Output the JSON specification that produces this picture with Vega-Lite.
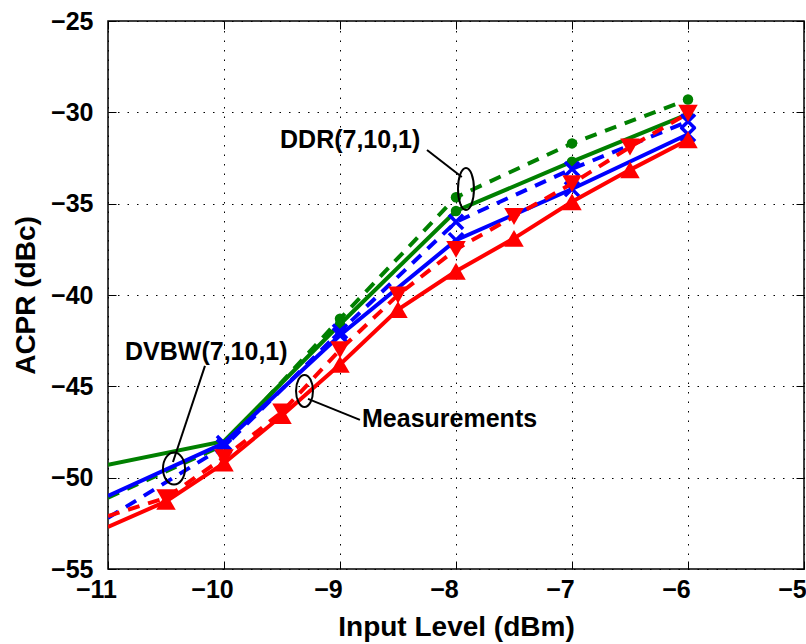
{
  "$schema": "https://vega.github.io/schema/vega-lite/v6.json",
  "width": 696,
  "height": 548,
  "autosize": {"type": "none"},
  "padding": {"left": 108, "top": 21, "right": 2, "bottom": 75},
  "background": "white",
  "config": {
    "view": {"stroke": "black", "strokeWidth": 1.5},
    "font": "Liberation Sans",
    "axis": {
      "labelFont": "Liberation Sans",
      "labelFontSize": 25,
      "labelFontWeight": "bold",
      "labelColor": "black",
      "labelFlush": false,
      "labelOverlap": false,
      "format": "d",
      "titleFont": "Liberation Sans",
      "titleFontSize": 28,
      "titleFontWeight": "bold",
      "titleColor": "black",
      "domain": false,
      "tickColor": "black",
      "tickWidth": 1,
      "gridColor": "black",
      "gridOpacity": 1,
      "gridWidth": 1,
      "gridDash": [1.5, 8]
    }
  },
  "datasets": {
    "curves": [
      {"series": "meas_solid", "x": -11, "y": -52.7},
      {"series": "meas_solid", "x": -10.5, "y": -51.3},
      {"series": "meas_solid", "x": -10, "y": -49.2},
      {"series": "meas_solid", "x": -9.5, "y": -46.6},
      {"series": "meas_solid", "x": -9, "y": -43.8},
      {"series": "meas_solid", "x": -8.5, "y": -40.8},
      {"series": "meas_solid", "x": -8, "y": -38.7},
      {"series": "meas_solid", "x": -7.5, "y": -36.9},
      {"series": "meas_solid", "x": -7, "y": -34.9},
      {"series": "meas_solid", "x": -6.5, "y": -33.15},
      {"series": "meas_solid", "x": -6, "y": -31.5},
      {"series": "meas_dashed", "x": -11, "y": -52.1},
      {"series": "meas_dashed", "x": -10.5, "y": -51.1},
      {"series": "meas_dashed", "x": -10, "y": -48.9},
      {"series": "meas_dashed", "x": -9.5, "y": -46.4},
      {"series": "meas_dashed", "x": -9, "y": -43.0},
      {"series": "meas_dashed", "x": -8.5, "y": -40.0},
      {"series": "meas_dashed", "x": -8, "y": -37.5},
      {"series": "meas_dashed", "x": -7.5, "y": -35.7},
      {"series": "meas_dashed", "x": -7, "y": -33.9},
      {"series": "meas_dashed", "x": -6.5, "y": -31.9},
      {"series": "meas_dashed", "x": -6, "y": -30.05},
      {"series": "dvbw_solid", "x": -11, "y": -51.0},
      {"series": "dvbw_solid", "x": -10, "y": -48.1},
      {"series": "dvbw_solid", "x": -9, "y": -42.2},
      {"series": "dvbw_solid", "x": -8, "y": -37.0},
      {"series": "dvbw_solid", "x": -7, "y": -34.2},
      {"series": "dvbw_solid", "x": -6, "y": -31.2},
      {"series": "dvbw_dashed", "x": -11, "y": -52.2},
      {"series": "dvbw_dashed", "x": -10, "y": -48.3},
      {"series": "dvbw_dashed", "x": -9, "y": -42.0},
      {"series": "dvbw_dashed", "x": -8, "y": -36.0},
      {"series": "dvbw_dashed", "x": -7, "y": -33.1},
      {"series": "dvbw_dashed", "x": -6, "y": -30.5},
      {"series": "ddr_solid", "x": -11, "y": -49.3},
      {"series": "ddr_solid", "x": -10, "y": -48.0},
      {"series": "ddr_solid", "x": -9, "y": -41.6},
      {"series": "ddr_solid", "x": -8, "y": -35.4},
      {"series": "ddr_solid", "x": -7, "y": -32.7},
      {"series": "ddr_solid", "x": -6, "y": -30.1},
      {"series": "ddr_dashed", "x": -11, "y": -51.1},
      {"series": "ddr_dashed", "x": -10, "y": -48.2},
      {"series": "ddr_dashed", "x": -9, "y": -41.3},
      {"series": "ddr_dashed", "x": -8, "y": -34.65},
      {"series": "ddr_dashed", "x": -7, "y": -31.7},
      {"series": "ddr_dashed", "x": -6, "y": -29.3}
    ],
    "ellipses": [
      {"name": "DDR", "x": -7.914, "y": -34.2},
      {"name": "DVBW", "x": -10.431, "y": -49.5},
      {"name": "Meas", "x": -9.306, "y": -45.25}
    ],
    "leaders": [
      {"name": "DDR", "x": -8.25, "y": -32.06, "x2": -7.95, "y2": -33.54},
      {"name": "DVBW", "x": -10.164, "y": -43.88, "x2": -10.44, "y2": -49.14},
      {"name": "Meas", "x": -9.276, "y": -45.69, "x2": -8.828, "y2": -46.84}
    ],
    "labels": [
      {"text": "DDR(7,10,1)", "x": -9.517, "y": -31.51},
      {"text": "DVBW(7,10,1)", "x": -10.853, "y": -43.12},
      {"text": "Measurements", "x": -8.81, "y": -46.78}
    ]
  },
  "layer": [
    {
      "layer": [
        {
          "data": {"name": "curves"},
          "transform": [{"filter": "datum.series == 'ddr_solid'"}],
          "mark": {"type": "line", "color": "#008000", "strokeWidth": 4, "clip": true},
          "encoding": {
            "x": {"field": "x", "type": "quantitative", "title": "Input Level (dBm)",
              "scale": {"domain": [-11, -5], "nice": false, "zero": false},
              "axis": {"values": [-11, -10, -9, -8, -7, -6, -5], "grid": true, "ticks": true, "tickSize": -8, "labelPadding": 16, "labelOffset": -12, "titlePadding": 11}},
            "y": {"field": "y", "type": "quantitative", "title": "ACPR (dBc)",
              "scale": {"domain": [-55, -25], "nice": false, "zero": false},
              "axis": {"values": [-55, -50, -45, -40, -35, -30, -25], "grid": true, "ticks": true, "tickSize": -8, "labelPadding": 23, "titlePadding": 10}}
          }
        },
        {
          "data": {"name": "curves"},
          "transform": [{"filter": "datum.series == 'ddr_dashed'"}],
          "mark": {"type": "line", "color": "#008000", "strokeWidth": 4, "strokeDash": [12, 9], "clip": true},
          "encoding": {"x": {"field": "x", "type": "quantitative"}, "y": {"field": "y", "type": "quantitative"}}
        },
        {
          "data": {"name": "curves"},
          "transform": [{"filter": "(datum.series == 'ddr_solid' || datum.series == 'ddr_dashed') && datum.x >= -9"}],
          "mark": {"type": "point", "shape": "circle", "filled": true, "color": "#008000", "size": 110, "opacity": 1},
          "encoding": {"x": {"field": "x", "type": "quantitative"}, "y": {"field": "y", "type": "quantitative"}}
        },
        {
          "data": {"name": "curves"},
          "transform": [{"filter": "datum.series == 'dvbw_solid'"}],
          "mark": {"type": "line", "color": "#0000ff", "strokeWidth": 4, "clip": true},
          "encoding": {"x": {"field": "x", "type": "quantitative"}, "y": {"field": "y", "type": "quantitative"}}
        },
        {
          "data": {"name": "curves"},
          "transform": [{"filter": "datum.series == 'dvbw_dashed'"}],
          "mark": {"type": "line", "color": "#0000ff", "strokeWidth": 4, "strokeDash": [12, 9], "clip": true},
          "encoding": {"x": {"field": "x", "type": "quantitative"}, "y": {"field": "y", "type": "quantitative"}}
        },
        {
          "data": {"name": "curves"},
          "transform": [{"filter": "(datum.series == 'dvbw_solid' || datum.series == 'dvbw_dashed') && datum.x >= -10"}],
          "mark": {"type": "point", "shape": "M-1,-1L1,1M-1,1L1,-1", "filled": false, "color": "#0000ff", "strokeWidth": 3.5, "size": 200, "opacity": 1},
          "encoding": {"x": {"field": "x", "type": "quantitative"}, "y": {"field": "y", "type": "quantitative"}}
        },
        {
          "data": {"name": "curves"},
          "transform": [{"filter": "datum.series == 'meas_solid'"}],
          "mark": {"type": "line", "color": "#ff0000", "strokeWidth": 4, "clip": true},
          "encoding": {"x": {"field": "x", "type": "quantitative"}, "y": {"field": "y", "type": "quantitative"}}
        },
        {
          "data": {"name": "curves"},
          "transform": [{"filter": "datum.series == 'meas_dashed'"}],
          "mark": {"type": "line", "color": "#ff0000", "strokeWidth": 4, "strokeDash": [12, 9], "clip": true},
          "encoding": {"x": {"field": "x", "type": "quantitative"}, "y": {"field": "y", "type": "quantitative"}}
        },
        {
          "data": {"name": "curves"},
          "transform": [{"filter": "datum.series == 'meas_solid' && datum.x > -11"}],
          "mark": {"type": "point", "shape": "triangle-up", "filled": true, "color": "#ff0000", "size": 380, "opacity": 1},
          "encoding": {"x": {"field": "x", "type": "quantitative"}, "y": {"field": "y", "type": "quantitative"}}
        },
        {
          "data": {"name": "curves"},
          "transform": [{"filter": "datum.series == 'meas_dashed' && datum.x > -11"}],
          "mark": {"type": "point", "shape": "triangle-down", "filled": true, "color": "#ff0000", "size": 380, "opacity": 1},
          "encoding": {"x": {"field": "x", "type": "quantitative"}, "y": {"field": "y", "type": "quantitative"}}
        },
        {
          "data": {"name": "leaders"},
          "mark": {"type": "rule", "color": "black", "strokeWidth": 2},
          "encoding": {
            "x": {"field": "x", "type": "quantitative"}, "y": {"field": "y", "type": "quantitative"},
            "x2": {"field": "x2"}, "y2": {"field": "y2"}
          }
        },
        {
          "data": {"name": "ellipses"},
          "transform": [{"filter": "datum.name == 'DDR'"}],
          "mark": {"type": "point", "filled": false, "color": "black", "strokeWidth": 2, "opacity": 1, "size": 1764,
            "shape": "M0,-1C0.21,-1,0.38,-0.5523,0.38,0C0.38,0.5523,0.21,1,0,1C-0.21,1,-0.38,0.5523,-0.38,0C-0.38,-0.5523,-0.21,-1,0,-1Z"},
          "encoding": {"x": {"field": "x", "type": "quantitative"}, "y": {"field": "y", "type": "quantitative"}}
        },
        {
          "data": {"name": "ellipses"},
          "transform": [{"filter": "datum.name == 'DVBW'"}],
          "mark": {"type": "point", "filled": false, "color": "black", "strokeWidth": 2, "opacity": 1, "size": 1024,
            "shape": "M0,-1C0.381,-1,0.69,-0.5523,0.69,0C0.69,0.5523,0.381,1,0,1C-0.381,1,-0.69,0.5523,-0.69,0C-0.69,-0.5523,-0.381,-1,0,-1Z"},
          "encoding": {"x": {"field": "x", "type": "quantitative"}, "y": {"field": "y", "type": "quantitative"}}
        },
        {
          "data": {"name": "ellipses"},
          "transform": [{"filter": "datum.name == 'Meas'"}],
          "mark": {"type": "point", "filled": false, "color": "black", "strokeWidth": 2, "opacity": 1, "size": 1024,
            "shape": "M0,-1C0.293,-1,0.53,-0.5523,0.53,0C0.53,0.5523,0.293,1,0,1C-0.293,1,-0.53,0.5523,-0.53,0C-0.53,-0.5523,-0.293,-1,0,-1Z"},
          "encoding": {"x": {"field": "x", "type": "quantitative"}, "y": {"field": "y", "type": "quantitative"}}
        },
        {
          "data": {"name": "labels"},
          "mark": {"type": "text", "align": "left", "baseline": "middle", "font": "Liberation Sans", "fontSize": 25, "fontWeight": "bold", "color": "black"},
          "encoding": {
            "x": {"field": "x", "type": "quantitative"}, "y": {"field": "y", "type": "quantitative"},
            "text": {"field": "text", "type": "nominal"}
          }
        }
      ]
    },
    {
      "data": {"name": "curves"},
      "mark": {"type": "point", "opacity": 0},
      "encoding": {
        "x": {"field": "x", "type": "quantitative", "axis": {"orient": "top", "values": [-11, -10, -9, -8, -7, -6, -5], "labels": false, "title": null, "grid": false, "ticks": true, "tickSize": -8}},
        "y": {"field": "y", "type": "quantitative", "axis": {"orient": "right", "values": [-55, -50, -45, -40, -35, -30, -25], "labels": false, "title": null, "grid": false, "ticks": true, "tickSize": -8}}
      }
    }
  ],
  "resolve": {"axis": {"x": "independent", "y": "independent"}}
}
